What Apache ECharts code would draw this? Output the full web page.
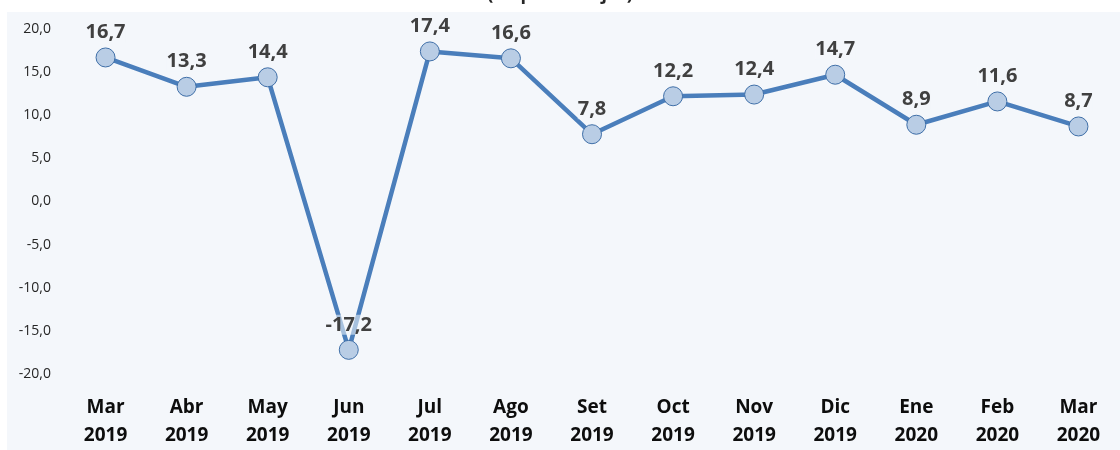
<!DOCTYPE html>
<html>
<head>
<meta charset="utf-8">
<script src="https://cdn.jsdelivr.net/npm/echarts@6/dist/echarts.min.js"></script>
<style>
  html, body { margin: 0; padding: 0; background: #fff; }
  #chart { width: 1120px; height: 450px; }
</style>
</head>
<body>
<div id="chart"></div>
<script>
// categories and values
const months = ['Mar', 'Abr', 'May', 'Jun', 'Jul', 'Ago', 'Set', 'Oct', 'Nov', 'Dic', 'Ene', 'Feb', 'Mar'];
const years = ['2019', '2019', '2019', '2019', '2019', '2019', '2019', '2019', '2019', '2019', '2020', '2020', '2020'];
const values = [16.7, 13.3, 14.4, -17.2, 17.4, 16.6, 7.8, 12.2, 12.4, 14.7, 8.9, 11.6, 8.7];

const categories = months.map((m, i) => m + '\n' + years[i]);
const fmt = v => v.toFixed(1).replace('.', ',');

const chart = echarts.init(document.getElementById('chart'));
chart.setOption({
  animation: false,
  backgroundColor: '#ffffff',
  graphic: [{
    type: 'rect',
    left: 7, top: 12,
    shape: { width: 1113, height: 438 },
    style: { fill: '#f4f7fb' },
    z: -10
  }],
  title: {
    text: '(en porcentajes)',
    left: 'center',
    top: -19,
    textStyle: { fontFamily: 'Open Sans', fontSize: 18, fontWeight: 'bold', color: '#262626' }
  },
  grid: { left: 65, right: 1, top: 29, bottom: 71 },
  xAxis: {
    type: 'category',
    data: categories,
    boundaryGap: true,
    axisLine: { show: false },
    axisTick: { show: false },
    axisLabel: {
      interval: 0,
      margin: 20,
      lineHeight: 28,
      fontFamily: 'Open Sans',
      fontSize: 19,
      fontWeight: 'bold',
      color: '#0d0d0d'
    }
  },
  yAxis: {
    type: 'value',
    min: -20, max: 20, interval: 5,
    axisLine: { show: false },
    axisTick: { show: false },
    splitLine: { show: false },
    axisLabel: {
      margin: 14,
      fontFamily: 'Open Sans',
      fontSize: 14,
      color: '#262626',
      formatter: fmt
    }
  },
  series: [{
    type: 'line',
    data: values,
    symbol: 'circle',
    symbolSize: 19,
    lineStyle: { color: '#4a7ebb', width: 4.5 },
    itemStyle: { color: '#b9cde5', borderColor: '#3f6fa8', borderWidth: 1 },
    label: {
      show: true,
      position: 'top',
      distance: 5,
      fontFamily: 'Open Sans',
      fontSize: 20,
      fontWeight: 'bold',
      color: '#404040',
      backgroundColor: 'rgba(244,247,251,0.55)',
      formatter: p => fmt(p.value)
    },
    labelLayout: { hideOverlap: false }
  }]
});
</script>
</body>
</html>
